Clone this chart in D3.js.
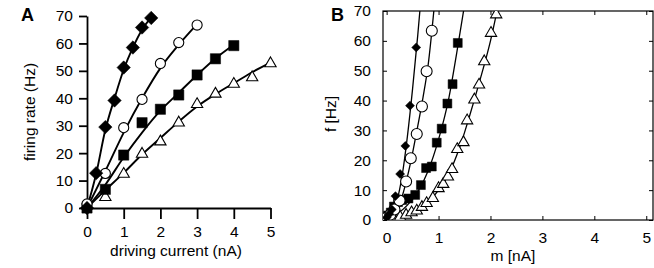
<!DOCTYPE html>
<html>
<head>
<meta charset="utf-8">
<script src="https://cdn.jsdelivr.net/npm/d3@7"></script>
<style>
  body { margin: 0; background: #fff; }
  svg { display: block; font-family: "Liberation Sans", Arial, sans-serif; }
</style>
</head>
<body>
<svg id="chart" width="654" height="268"></svg>
<script>
// panel A: firing rate vs driving current
const aDiamonds = [[0,0],[0.25,12.7],[0.5,29.5],[0.75,39.2],[1,51.2],[1.25,58.5],[1.5,65.8],[1.75,69.3]];
const aCircles = [[0,1.5],[0.5,12.6],[1,29.3],[1.5,39.6],[2,52.7],[2.5,60.3],[3,66.7]];
const aSquares = [[0,0],[0.5,6.8],[1,19.3],[1.5,31.1],[2,36],[2.5,41.2],[3,48.5],[3.5,54.4],[4,59.2]];
const aTriangles = [[0.5,3.9],[1,12.4],[1.5,19.7],[2,24.2],[2.5,31.1],[3,37.8],[3.5,41.6],[4,45.2],[4.5,47.6],[5,52.7]];

const aDiamondFit = [[0,0],[0.25,12.5],[0.5,28.5],[0.75,40],[1,50.5],[1.25,58.5],[1.5,65],[1.75,69.5]];
const aCircleFit = [[0,0],[0.5,13.5],[1,27.5],[1.5,40],[2,51],[2.5,59.5],[3,67]];
const aSquareFit = [[0,0],[0.5,8.5],[1,18.5],[1.5,27.5],[2,35.5],[2.5,42],[3,48.5],[3.5,54.5],[4,59.5]];
const aTriangleFit = [[0,0],[0.5,6.5],[1,12.8],[1.5,19.5],[2,25.5],[2.5,31.5],[3,37],[3.5,41.5],[4,45.5],[4.5,49.5],[5,53]];

// panel B: f vs m
const bDiamonds = [[0,0.8],[0.05,2],[0.1,3.5],[0.17,8],[0.26,15.4],[0.36,24.8],[0.45,38.3],[0.57,57.8]];
const bCircles = [[0,0.8],[0.07,1.8],[0.15,3.5],[0.25,6.5],[0.375,12.9],[0.465,20.7],[0.58,28.8],[0.68,38],[0.77,49.8],[0.87,63.4]];
const bSquares = [[0,0.5],[0.03,1.5],[0.08,2.5],[0.14,4.5],[0.22,6],[0.3,6.7],[0.42,7.2],[0.55,8.4],[0.66,11.7],[0.76,17.4],[0.87,17.9],[0.965,25.9],[1.06,30.6],[1.17,39],[1.27,45.5],[1.37,59.3]];
const bTriangles = [[0.05,0.3],[0.14,0.5],[0.26,1],[0.375,1.7],[0.48,2.5],[0.58,3.1],[0.68,4.3],[0.77,5.6],[0.89,7.3],[1,10.6],[1.09,12],[1.18,14.5],[1.26,17],[1.36,23.7],[1.48,26],[1.55,33.3],[1.69,40.3],[1.78,45.3],[1.88,53.1],[2.01,62.6],[2.11,68.8]];

const bDiamondFit = [[0,0],[0.1,2.5],[0.2,6.5],[0.3,15],[0.4,28],[0.5,44],[0.6,62],[0.65,72]];
const bCircleFit = [[0,0],[0.1,1.5],[0.2,4],[0.3,8],[0.4,14.5],[0.5,22.5],[0.6,31.5],[0.7,41],[0.8,52],[0.92,72]];
const bSquareFit = [[0,0],[0.2,2],[0.4,5],[0.6,9.5],[0.8,16.5],[1,27],[1.2,41],[1.35,56],[1.5,72]];
const bTriangleFit = [[0,0],[0.4,1.5],[0.6,3.5],[0.8,6],[1,10],[1.2,15.5],[1.4,24],[1.6,35],[1.8,47],[2,60],[2.15,72]];

const xTicks = [0,1,2,3,4,5];
const yTicks = [0,10,20,30,40,50,60,70];
const fmt = d3.format("d");

const svg = d3.select("#chart");

function drawMarks(g, data, x, y, kind, size) {
  const shape = {
    diamond: d3.symbolSquare, square: d3.symbolSquare,
    circle: d3.symbolCircle, triangle: d3.symbolTriangle
  }[kind];
  const filled = kind === "diamond" || kind === "square";
  g.append("g").selectAll("path").data(data).join("path")
    .attr("d", d3.symbol(shape, size))
    .attr("transform", d => `translate(${x(d[0])},${y(d[1])})` + (kind === "diamond" ? " rotate(45)" : ""))
    .attr("fill", filled ? "#000" : "#fff")
    .attr("stroke", "#000")
    .attr("stroke-width", filled ? 0.5 : 1.1);
}

function drawFit(g, data, x, y, width) {
  g.append("path").datum(data)
    .attr("d", d3.line().x(d => x(d[0])).y(d => y(d[1])).curve(d3.curveMonotoneX))
    .attr("fill", "none").attr("stroke", "#000").attr("stroke-width", width);
}

// ---------- panel A ----------
const xA = d3.scaleLinear([0, 5], [87, 270.5]);
const yA = d3.scaleLinear([0, 70], [208, 16]);
const gA = svg.append("g");

gA.append("g").attr("transform", "translate(0,208)")
  .call(d3.axisBottom(xA).tickValues(xTicks).tickFormat(fmt).tickSize(11).tickSizeOuter(0).tickPadding(7))
  .call(g => g.selectAll("line, path").attr("stroke-width", 1.8))
  .call(g => g.selectAll("text").attr("font-size", 15.5).attr("fill", "#000"));

gA.append("g").attr("transform", "translate(87,0)")
  .call(d3.axisLeft(yA).tickValues(yTicks).tickFormat(fmt).tickSize(8).tickSizeOuter(0).tickPadding(6))
  .call(g => g.selectAll("line, path").attr("stroke-width", 1.8))
  .call(g => g.selectAll("text").attr("font-size", 15.5).attr("fill", "#000"));

[aDiamondFit, aCircleFit, aSquareFit, aTriangleFit].forEach(f => drawFit(gA, f, xA, yA, 1.9));
drawMarks(gA, aTriangles, xA, yA, "triangle", 55);
drawMarks(gA, aSquares, xA, yA, "square", 105);
drawMarks(gA, aCircles, xA, yA, "circle", 80);
drawMarks(gA, aDiamonds, xA, yA, "diamond", 90);

gA.append("text").attr("x", 176).attr("y", 256).attr("text-anchor", "middle")
  .attr("font-size", 15.5).attr("fill", "#000").text("driving current (nA)");
gA.append("text").attr("transform", "translate(35,112) rotate(-90)").attr("text-anchor", "middle")
  .attr("font-size", 15.5).attr("fill", "#000").text("firing rate (Hz)");
gA.append("text").attr("x", 21).attr("y", 21).attr("font-size", 18).attr("font-weight", "bold").text("A");

// ---------- panel B ----------
const xB = d3.scaleLinear([-0.07, 5.13], [383, 653]);
const yB = d3.scaleLinear([0, 70], [220, 11]);
const gB = svg.append("g");

gB.append("defs").append("clipPath").attr("id", "clipB")
  .append("rect").attr("x", 383).attr("y", 11).attr("width", 270).attr("height", 209);

gB.append("g").attr("transform", "translate(0,220)")
  .call(d3.axisBottom(xB).tickValues(xTicks).tickFormat(fmt).tickSize(-4).tickSizeOuter(0).tickPadding(12))
  .call(g => g.select(".domain").remove())
  .call(g => g.selectAll("text").attr("font-size", 15.5).attr("fill", "#000"));
gB.append("g").attr("transform", "translate(0,11)")
  .call(d3.axisTop(xB).tickValues(xTicks).tickSize(-4).tickSizeOuter(0).tickFormat(""))
  .call(g => g.select(".domain").remove());
gB.append("g").attr("transform", "translate(383,0)")
  .call(d3.axisLeft(yB).tickValues(yTicks).tickFormat(fmt).tickSize(-4).tickSizeOuter(0).tickPadding(12))
  .call(g => g.select(".domain").remove())
  .call(g => g.selectAll("text").attr("font-size", 15.5).attr("fill", "#000"));
gB.append("g").attr("transform", "translate(653,0)")
  .call(d3.axisRight(yB).tickValues(yTicks).tickSize(-4).tickSizeOuter(0).tickFormat(""))
  .call(g => g.select(".domain").remove());

gB.append("rect").attr("x", 383).attr("y", 11).attr("width", 270).attr("height", 209)
  .attr("fill", "none").attr("stroke", "#000").attr("stroke-width", 1.2);

const plotB = gB.append("g").attr("clip-path", "url(#clipB)");
[bDiamondFit, bCircleFit, bSquareFit, bTriangleFit].forEach(f => drawFit(plotB, f, xB, yB, 1.3));
drawMarks(plotB, bTriangles, xB, yB, "triangle", 55);
drawMarks(plotB, bSquares, xB, yB, "square", 80);
drawMarks(plotB, bCircles, xB, yB, "circle", 95);
drawMarks(plotB, bDiamonds, xB, yB, "diamond", 40);

gB.append("text").attr("x", 513).attr("y", 261).attr("text-anchor", "middle")
  .attr("font-size", 15.5).attr("fill", "#000").text("m [nA]");
gB.append("text").attr("transform", "translate(336,114) rotate(-90)").attr("text-anchor", "middle")
  .attr("font-size", 15.5).attr("fill", "#000").text("f [Hz]");
gB.append("text").attr("x", 331).attr("y", 21).attr("font-size", 18).attr("font-weight", "bold").text("B");
</script>
</body>
</html>
